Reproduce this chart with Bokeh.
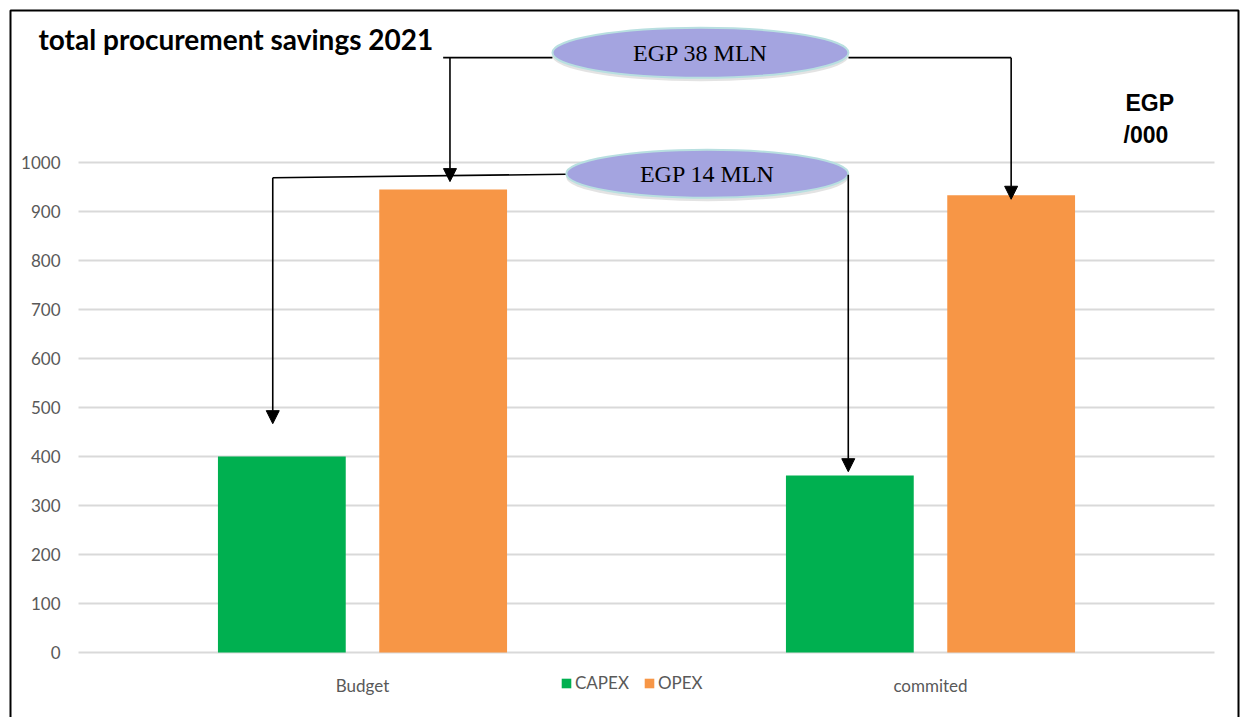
from bokeh.plotting import figure
from bokeh.models import (Range1d, Legend, LegendItem, Label, Arrow,
                          NormalHead, BoxAnnotation)
from bokeh.embed import file_html
from bokeh.resources import INLINE
from bokeh.core.properties import value

# ---------------- data ----------------
categories = ["Budget", "commited"]
series = ["CAPEX", "OPEX"]
capex = [400, 361]
opex = [945, 933]
y_ticks = [0, 100, 200, 300, 400, 500, 600, 700, 800, 900, 1000]
y_tick_labels = [str(t) for t in y_ticks]
callouts = ["EGP 38 MLN", "EGP 14 MLN"]
title_text = "total procurement savings 2021"
unit_lines = ["EGP", "/000"]

GREEN = "#00b050"
ORANGE = "#f79646"
GRAY = "#595959"
GRID = "#d9d9d9"

W, H = 1246, 717
# plot area (category axis 0..2 spans px 78..1214, value 0..1000 spans px 652..162)
PX_PER_CAT = 568.0
PX_PER_VAL = 0.49
x_start = -78 / PX_PER_CAT
x_end = x_start + W / PX_PER_CAT
y_start = -(H - 652) / PX_PER_VAL
y_end = y_start + H / PX_PER_VAL

idx = [i + 0.5 for i in range(len(categories))]
off, bw = 0.142, 0.225
capex_x = [c - off for c in idx]
opex_x = [c + off for c in idx]

p = figure(width=W, height=H, x_range=Range1d(x_start, x_end), y_range=Range1d(y_start, y_end),
           output_backend="svg", toolbar_location=None,
           min_border=0, min_border_left=0, min_border_right=0,
           min_border_top=0, min_border_bottom=0)
p.outline_line_color = None
p.background_fill_color = "white"
p.border_fill_color = "white"
p.xaxis.visible = False
p.yaxis.visible = False
p.xgrid.visible = False
p.ygrid.visible = False

# gridlines (value axis) and baseline
p.segment(x0=[0] * len(y_ticks), x1=[len(categories)] * len(y_ticks), y0=y_ticks, y1=y_ticks,
          line_color=GRID, line_width=2)

# value-axis tick labels
p.text(x=[-18 / PX_PER_CAT] * len(y_ticks), y=y_ticks, text=y_tick_labels,
       text_font=value("Lato"), text_font_size="17px", text_color=GRAY,
       text_align="right", text_baseline="middle")
# category labels
p.text(x=idx, y=[-33 / PX_PER_VAL] * len(idx), text=categories,
       text_font=value("Lato"), text_font_size="17px", text_color=GRAY,
       text_align="center", text_baseline="middle")

# bars
r_cap = p.vbar(x=capex_x, top=capex, width=bw, fill_color=GREEN, line_color=None)
r_op = p.vbar(x=opex_x, top=opex, width=bw, fill_color=ORANGE, line_color=None)

legend = Legend(items=[LegendItem(label=series[0], renderers=[r_cap]),
                       LegendItem(label=series[1], renderers=[r_op])],
                orientation="horizontal", location=(560, 24))
legend.border_line_color = None
legend.background_fill_alpha = 0
legend.label_text_font = "Lato"
legend.label_text_font_size = "17px"
legend.label_text_color = GRAY
legend.glyph_width = 12
legend.glyph_height = 12
legend.label_standoff = 3
legend.spacing = 14
legend.padding = 0
legend.margin = 0
legend.label_height = 18
p.add_layout(legend)

# ---------------- callouts ----------------
ell_x = [1.095, 1.107]
ell_y = [1224, 977]
ell_w = [296, 282]
ell_h = [50, 48]
line_y = [1214, 972]

LW = 1.6
half38 = ell_w[0] / 2 / PX_PER_CAT
p.segment(x0=[opex_x[0], ell_x[0] + half38], y0=[line_y[0]] * 2,
          x1=[ell_x[0] - half38, opex_x[1]], y1=[line_y[0]] * 2,
          line_color="black", line_width=LW)
half14 = ell_w[1] / 2 / PX_PER_CAT
cap_left_x = capex_x[0] - 0.016
p.segment(x0=[cap_left_x], y0=[969], x1=[ell_x[1] - half14], y1=[976],
          line_color="black", line_width=LW)

tips = [
    (opex_x[0] + 0.012, line_y[0], opex[0] + 16),
    (opex_x[1], line_y[0], opex[1] - 8),
    (cap_left_x, 969, capex[0] + 67),
    (ell_x[1] + half14, 975, capex[1] + 8),
]
for x, y0, y1 in tips:
    p.add_layout(Arrow(end=NormalHead(size=13, fill_color="black", line_color="black"),
                       x_start=x, y_start=y0, x_end=x, y_end=y1,
                       line_color="black", line_width=LW))

p.ellipse(x=ell_x, y=[v - 7 for v in ell_y], width=ell_w, height=ell_h,
          width_units="screen", height_units="screen",
          fill_color="#808080", fill_alpha=0.22, line_color=None)
p.ellipse(x=ell_x, y=ell_y, width=ell_w, height=ell_h,
          width_units="screen", height_units="screen",
          fill_color="#a4a4e0", line_color="#b8dfe0", line_width=2)
p.text(x=ell_x, y=ell_y, text=callouts, text_font=value("Liberation Serif"),
       text_font_size="24px", text_color="black", text_align="center",
       text_baseline="middle")

# ---------------- texts ----------------
p.add_layout(Label(x=38, y=38, x_units="canvas", y_units="canvas", text=title_text,
                   text_font="Lato", text_font_style="bold", text_font_size="28px",
                   text_color="black", text_baseline="middle"))
p.add_layout(Label(x=1125, y=102, x_units="canvas", y_units="canvas", text=unit_lines[0],
                   text_font="Liberation Sans", text_font_style="bold", text_font_size="23px",
                   text_color="black", text_baseline="middle"))
p.add_layout(Label(x=1123, y=134, x_units="canvas", y_units="canvas", text=unit_lines[1],
                   text_font="Liberation Sans", text_font_style="bold", text_font_size="23px",
                   text_color="black", text_baseline="middle"))

# outer border
p.add_layout(BoxAnnotation(left=10, right=1238, top=10, bottom=740,
                           left_units="canvas", right_units="canvas",
                           top_units="canvas", bottom_units="canvas",
                           fill_alpha=0, line_color="black", line_alpha=1.0, line_width=2))

open("out.html", "w").write(file_html(p, INLINE))
